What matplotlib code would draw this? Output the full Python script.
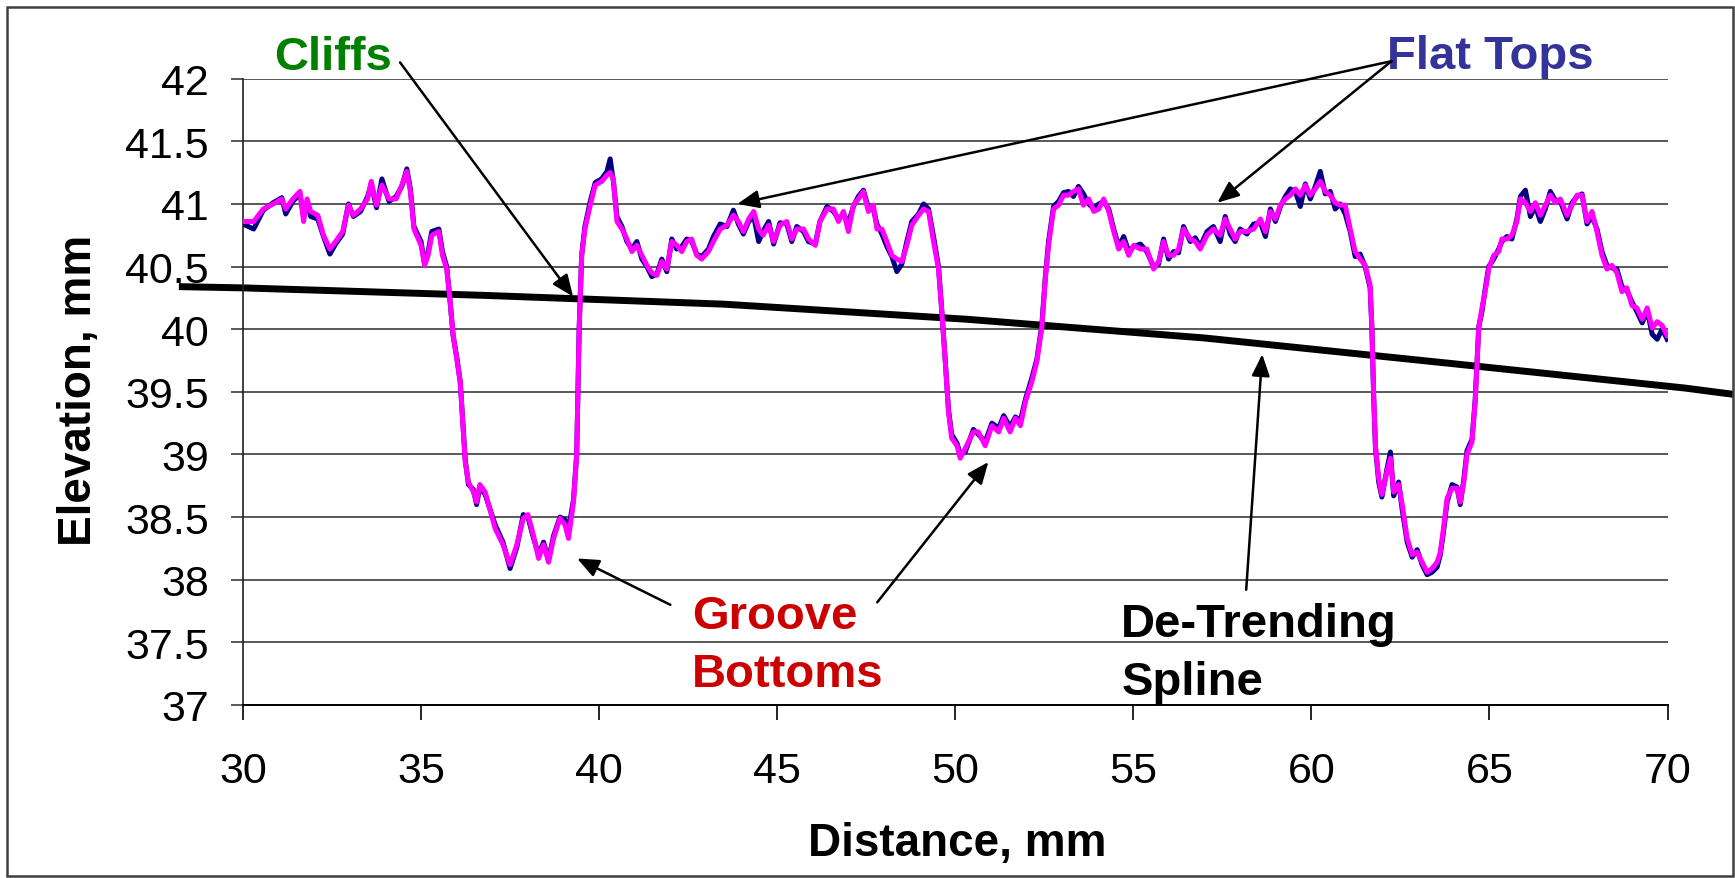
import numpy as np
import matplotlib
matplotlib.use('Agg')
import matplotlib.pyplot as plt
from matplotlib.patches import Rectangle

plt.rcParams['font.family'] = ['Liberation Sans', 'DejaVu Sans']

# Profile data (distance in mm, elevation in mm)
distance = [
    30.0, 30.3, 30.57, 30.85, 31.09, 31.2, 31.4, 31.6, 31.7, 31.8, 31.9, 32.1, 32.26, 32.44, 32.6, 32.8,
    32.96, 33.1, 33.3, 33.5, 33.6, 33.75, 33.9, 34.1, 34.3, 34.46, 34.6, 34.7, 34.8, 35.0, 35.1, 35.2,
    35.3, 35.5, 35.6, 35.72, 35.8, 35.9, 36.0, 36.1, 36.24, 36.33, 36.47, 36.56, 36.65, 36.8, 37.08, 37.3,
    37.5, 37.69, 37.87, 38.0, 38.15, 38.3, 38.44, 38.58, 38.72, 38.9, 39.04, 39.14, 39.28, 39.37, 39.44, 39.51,
    39.6, 39.75, 39.89, 40.07, 40.22, 40.31, 40.4, 40.5, 40.64, 40.78, 40.92, 41.06, 41.2, 41.34, 41.48, 41.62,
    41.76, 41.9, 42.04, 42.18, 42.32, 42.46, 42.6, 42.74, 42.88, 43.07, 43.21, 43.4, 43.59, 43.77, 43.91, 44.05,
    44.2, 44.34, 44.48, 44.6, 44.76, 44.9, 45.08, 45.27, 45.41, 45.55, 45.74, 45.88, 46.07, 46.2, 46.4, 46.58,
    46.72, 46.86, 47.0, 47.14, 47.28, 47.42, 47.56, 47.7, 47.8, 47.94, 48.08, 48.22, 48.36, 48.5, 48.64, 48.78,
    48.97, 49.11, 49.25, 49.39, 49.53, 49.63, 49.72, 49.81, 49.9, 50.05, 50.14, 50.28, 50.51, 50.65, 50.84, 51.03,
    51.22, 51.36, 51.54, 51.69, 51.83, 51.97, 52.15, 52.29, 52.43, 52.53, 52.62, 52.76, 52.9, 53.04, 53.18, 53.32,
    53.46, 53.6, 53.75, 53.89, 54.03, 54.17, 54.31, 54.45, 54.59, 54.73, 54.87, 55.01, 55.2, 55.38, 55.57, 55.71,
    55.85, 55.99, 56.13, 56.27, 56.41, 56.6, 56.74, 56.88, 57.07, 57.25, 57.44, 57.58, 57.72, 57.86, 58.0, 58.19,
    58.38, 58.57, 58.71, 58.85, 58.99, 59.13, 59.27, 59.41, 59.55, 59.69, 59.83, 59.97, 60.11, 60.25, 60.39, 60.53,
    60.67, 60.81, 60.95, 61.09, 61.23, 61.37, 61.51, 61.65, 61.7, 61.75, 61.8, 61.89, 61.98, 62.12, 62.22, 62.31,
    62.45, 62.55, 62.69, 62.83, 62.97, 63.11, 63.25, 63.39, 63.53, 63.62, 63.71, 63.81, 63.95, 64.09, 64.18, 64.28,
    64.37, 64.51, 64.6, 64.7, 64.79, 64.88, 64.98, 65.12, 65.26, 65.35, 65.49, 65.63, 65.77, 65.87, 66.01, 66.15,
    66.29, 66.43, 66.57, 66.71, 66.85, 66.99, 67.18, 67.32, 67.46, 67.6, 67.74, 67.88, 68.02, 68.16, 68.3, 68.44,
    68.58, 68.72, 68.86, 69.0, 69.14, 69.29, 69.43, 69.57, 69.71, 69.85, 69.99,
]

# raw profile (navy)
elev_raw = [
    40.84, 40.80, 40.95, 41.01, 41.05, 40.92, 41.02, 41.08, 40.90, 41.02, 40.90, 40.88, 40.74, 40.60, 40.68, 40.76,
    41.00, 40.90, 40.94, 41.06, 41.16, 40.97, 41.20, 41.02, 41.06, 41.14, 41.28, 41.12, 40.82, 40.70, 40.52, 40.62,
    40.78, 40.80, 40.62, 40.50, 40.27, 39.95, 39.78, 39.58, 38.96, 38.76, 38.72, 38.60, 38.74, 38.68, 38.44, 38.30,
    38.09, 38.26, 38.52, 38.50, 38.34, 38.20, 38.30, 38.16, 38.35, 38.50, 38.48, 38.40, 38.64, 39.00, 40.01, 40.59,
    40.82, 41.02, 41.17, 41.20, 41.26, 41.36, 41.18, 40.90, 40.82, 40.70, 40.64, 40.70, 40.56, 40.50, 40.42, 40.44,
    40.56, 40.46, 40.72, 40.64, 40.66, 40.72, 40.70, 40.60, 40.58, 40.64, 40.74, 40.84, 40.82, 40.95, 40.84, 40.76,
    40.86, 40.90, 40.70, 40.78, 40.86, 40.68, 40.85, 40.84, 40.70, 40.82, 40.78, 40.70, 40.68, 40.86, 40.98, 40.94,
    40.88, 40.92, 40.85, 40.98, 41.06, 41.11, 40.97, 40.96, 40.84, 40.76, 40.66, 40.58, 40.46, 40.52, 40.70, 40.86,
    40.92, 41.00, 40.96, 40.74, 40.50, 40.12, 39.75, 39.36, 39.16, 39.09, 39.00, 39.02, 39.20, 39.16, 39.10, 39.25,
    39.21, 39.31, 39.22, 39.30, 39.27, 39.44, 39.61, 39.76, 40.03, 40.42, 40.70, 40.98, 41.02, 41.09, 41.10, 41.06,
    41.14, 41.08, 41.00, 40.96, 41.00, 41.02, 40.96, 40.80, 40.66, 40.74, 40.62, 40.66, 40.68, 40.62, 40.50, 40.52,
    40.72, 40.56, 40.62, 40.61, 40.82, 40.70, 40.73, 40.66, 40.78, 40.82, 40.70, 40.90, 40.76, 40.70, 40.80, 40.76,
    40.84, 40.85, 40.74, 40.96, 40.86, 40.98, 41.06, 41.12, 41.10, 40.98, 41.16, 41.04, 41.14, 41.26, 41.08, 41.10,
    40.96, 41.00, 40.92, 40.78, 40.58, 40.60, 40.50, 40.33, 40.00, 39.45, 39.05, 38.78, 38.66, 38.88, 39.02, 38.67,
    38.78, 38.56, 38.30, 38.18, 38.24, 38.12, 38.04, 38.06, 38.10, 38.20, 38.38, 38.62, 38.76, 38.74, 38.60, 38.80,
    39.03, 39.12, 39.44, 40.02, 40.14, 40.32, 40.50, 40.56, 40.64, 40.70, 40.74, 40.72, 40.88, 41.06, 41.11, 40.90,
    40.98, 40.86, 40.96, 41.10, 41.03, 41.02, 40.88, 41.01, 41.06, 41.08, 40.84, 40.90, 40.80, 40.62, 40.51, 40.49,
    40.48, 40.34, 40.31, 40.22, 40.14, 40.05, 40.15, 39.96, 39.92, 40.00, 39.92,
]

# filtered profile (magenta)
elev_filtered = [
    40.86, 40.86, 40.96, 41.00, 41.04, 40.96, 41.04, 41.10, 40.86, 41.04, 40.94, 40.91, 40.75, 40.64, 40.70, 40.78,
    40.99, 40.91, 40.96, 41.04, 41.18, 40.99, 41.15, 41.04, 41.04, 41.15, 41.26, 41.10, 40.80, 40.67, 40.51, 40.59,
    40.75, 40.78, 40.59, 40.48, 40.27, 39.95, 39.77, 39.58, 38.94, 38.78, 38.70, 38.62, 38.76, 38.70, 38.41, 38.28,
    38.12, 38.28, 38.49, 38.52, 38.36, 38.17, 38.28, 38.14, 38.33, 38.49, 38.44, 38.33, 38.62, 39.00, 40.01, 40.59,
    40.80, 40.99, 41.15, 41.18, 41.23, 41.25, 41.20, 40.86, 40.80, 40.72, 40.62, 40.67, 40.59, 40.51, 40.45, 40.43,
    40.54, 40.48, 40.70, 40.67, 40.62, 40.70, 40.72, 40.59, 40.56, 40.62, 40.70, 40.80, 40.83, 40.91, 40.86, 40.78,
    40.88, 40.94, 40.80, 40.75, 40.83, 40.70, 40.83, 40.86, 40.72, 40.80, 40.80, 40.72, 40.67, 40.86, 40.96, 40.96,
    40.86, 40.94, 40.78, 40.99, 41.04, 41.10, 40.94, 40.99, 40.80, 40.80, 40.70, 40.59, 40.56, 40.54, 40.67, 40.83,
    40.91, 40.96, 40.94, 40.70, 40.48, 40.11, 39.74, 39.34, 39.13, 39.07, 38.97, 39.05, 39.18, 39.18, 39.07, 39.23,
    39.18, 39.29, 39.18, 39.29, 39.23, 39.42, 39.58, 39.74, 40.01, 40.40, 40.67, 40.96, 40.99, 41.07, 41.07, 41.10,
    41.12, 40.99, 41.04, 40.94, 40.96, 41.04, 40.94, 40.78, 40.64, 40.70, 40.59, 40.67, 40.64, 40.64, 40.48, 40.54,
    40.70, 40.59, 40.59, 40.64, 40.80, 40.72, 40.70, 40.64, 40.75, 40.80, 40.75, 40.88, 40.80, 40.72, 40.78, 40.78,
    40.80, 40.88, 40.78, 40.94, 40.88, 40.99, 41.04, 41.07, 41.12, 41.07, 41.15, 41.07, 41.12, 41.18, 41.10, 41.07,
    41.01, 40.99, 40.99, 40.80, 40.62, 40.56, 40.51, 40.35, 40.01, 39.47, 39.07, 38.81, 38.68, 38.86, 38.97, 38.70,
    38.76, 38.60, 38.33, 38.20, 38.22, 38.14, 38.06, 38.09, 38.14, 38.22, 38.41, 38.65, 38.73, 38.73, 38.62, 38.78,
    39.00, 39.10, 39.42, 40.01, 40.17, 40.30, 40.48, 40.59, 40.62, 40.72, 40.72, 40.75, 40.86, 41.04, 41.01, 40.94,
    41.01, 40.91, 40.99, 41.07, 41.01, 41.04, 40.91, 40.99, 41.07, 41.07, 40.86, 40.94, 40.78, 40.59, 40.48, 40.51,
    40.45, 40.30, 40.33, 40.19, 40.17, 40.08, 40.17, 40.01, 40.06, 40.03, 39.95,
]

# de-trending spline (drawn past the plot edges, as in the original)
spline_x = [28.2, 30.0, 36.8, 43.5, 50.3, 57.0, 63.8, 70.5, 71.85]
spline_y = [40.34, 40.33, 40.27, 40.20, 40.08, 39.93, 39.73, 39.53, 39.48]

x_ticks = [30, 35, 40, 45, 50, 55, 60, 65, 70]
y_ticks = [37, 37.5, 38, 38.5, 39, 39.5, 40, 40.5, 41, 41.5, 42]
y_labels = ['37', '37.5', '38', '38.5', '39', '39.5', '40', '40.5', '41', '41.5', '42']

W, H = 1735, 879
fig = plt.figure(figsize=(W / 100, H / 100), dpi=100)
ax = fig.add_axes([243 / W, 1 - 706 / H, (1667.5 - 243) / W, (706 - 79.7) / H])

# outer frame
fig.patches.append(Rectangle((7 / W, 2 / H), 1726 / W, 869 / H, transform=fig.transFigure,
                             fill=False, edgecolor='#404040', lw=1.8))

ax.plot(spline_x, spline_y, color='black', lw=5, clip_on=False, zorder=2, solid_capstyle='butt')
ax.plot(distance, elev_raw, color='#000080', lw=3.6, zorder=3)
ax.plot(distance, elev_filtered, color='#FF00FF', lw=3.6, zorder=4)

ax.set_xlim(30, 70)
ax.set_ylim(37, 42)
ax.set_xticks(x_ticks)
ax.set_yticks(y_ticks)
ax.set_yticklabels(y_labels)

ax.yaxis.grid(True, color='#3c3c3c', lw=1.2)
ax.set_axisbelow(True)
for s in ['top', 'right']:
    ax.spines[s].set_visible(False)
ax.spines['left'].set_color('#202020')
ax.spines['bottom'].set_color('black')
ax.spines['left'].set_linewidth(1.2)
ax.spines['bottom'].set_linewidth(1.4)

ax.tick_params(axis='y', direction='out', length=8.6, width=1.2, color='#3c3c3c', pad=16, labelsize=31)
ax.tick_params(axis='x', direction='out', length=10.8, width=1.2, color='black', pad=22, labelsize=31)

fig.text(957 / W, 1 - 856 / H, 'Distance, mm', ha='center', va='baseline', fontsize=33, fontweight='bold')
fig.text(79 / W, 1 - 390 / H, 'Elevation, mm', ha='center', va='center', rotation=90,
         fontsize=33, fontweight='bold')

# callout labels
ax.text(30.87, 42.08, 'Cliffs', color='#008000', fontsize=34, fontweight='bold', va='baseline', clip_on=False)
ax.text(62.11, 42.085, 'Flat Tops', color='#333399', fontsize=34, fontweight='bold', va='baseline', clip_on=False)
ax.text(42.61, 37.613, 'Groove', color='#CC0000', fontsize=34, fontweight='bold', va='baseline')
ax.text(42.61, 37.15, 'Bottoms', color='#CC0000', fontsize=34, fontweight='bold', va='baseline')
ax.text(54.66, 37.55, 'De-Trending', color='black', fontsize=34, fontweight='bold', va='baseline')
ax.text(54.66, 37.09, 'Spline', color='black', fontsize=34, fontweight='bold', va='baseline')

arrow_kw = dict(arrowstyle='-|>,head_length=0.6,head_width=0.25', lw=1.8, color='black',
                mutation_scale=22, shrinkA=0, shrinkB=0)
arrows = [
    ((39.27, 40.26), (34.41, 42.13)),
    ((43.88, 41.00), (62.25, 42.14)),
    ((57.36, 41.01), (62.25, 42.14)),
    ((39.38, 38.17), (42.0, 37.80)),
    ((50.93, 38.94), (47.81, 37.82)),
    ((58.62, 39.80), (58.17, 37.92)),
]
for tip, start in arrows:
    ax.annotate('', xy=tip, xytext=start, arrowprops=arrow_kw, annotation_clip=False, zorder=6)

plt.savefig('out.png', dpi=100)
